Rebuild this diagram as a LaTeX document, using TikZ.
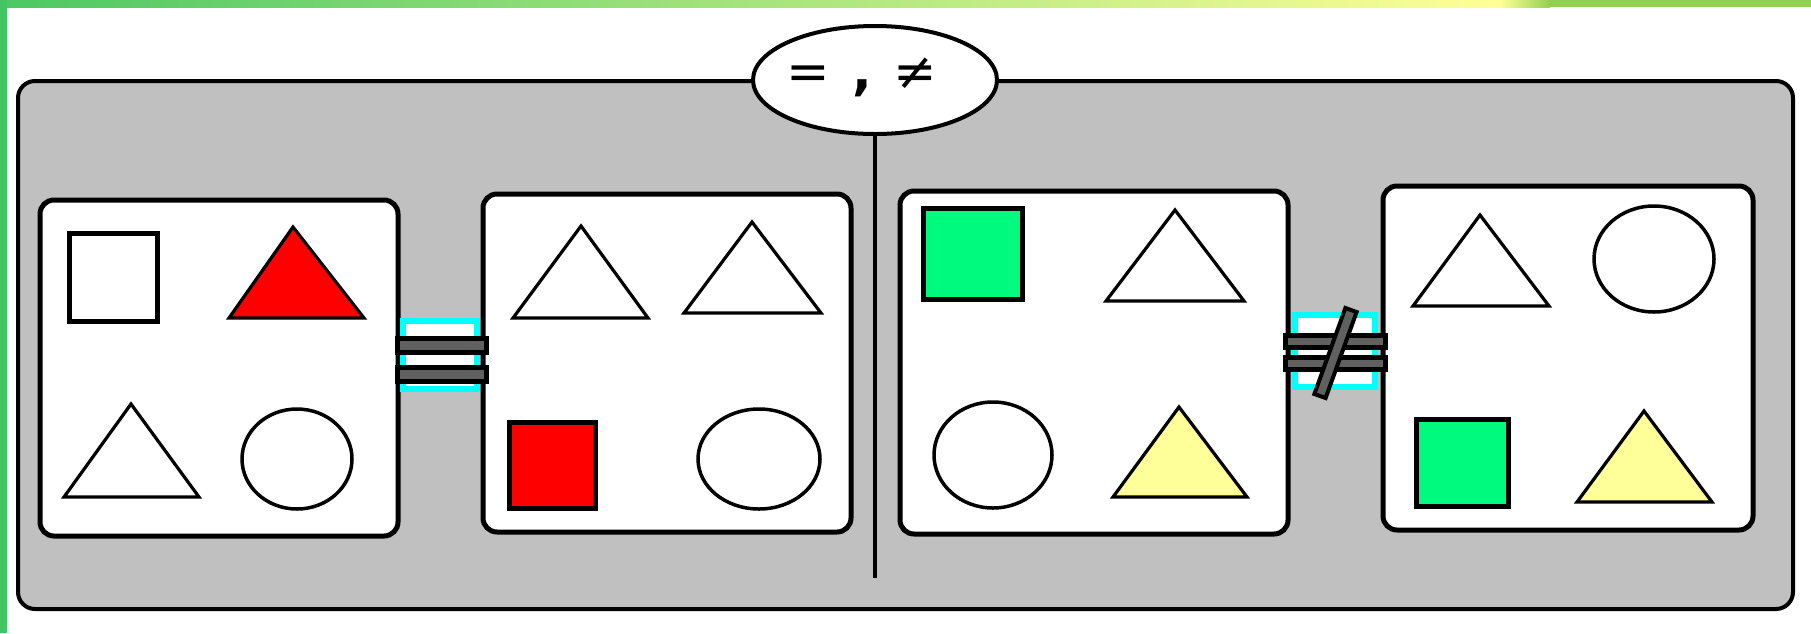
\documentclass[tikz,border=0pt]{standalone}
\usepackage{fontspec}
\newfontfamily\signfont{DejaVu Sans}
\usetikzlibrary{shapes.geometric}
\definecolor{topgreen}{RGB}{76,200,100}
\definecolor{topyellow}{RGB}{255,255,150}
\definecolor{topolive}{RGB}{146,208,80}
\definecolor{leftgreen}{RGB}{68,196,98}
\definecolor{boxgray}{RGB}{192,192,192}
\definecolor{bargray}{RGB}{96,96,96}
\definecolor{shred}{RGB}{255,0,0}
\definecolor{shgreen}{RGB}{0,250,125}
\definecolor{shyellow}{RGB}{255,255,153}
\definecolor{signcyan}{RGB}{0,255,255}
\begin{document}
\begin{tikzpicture}[x=1pt,y=-1pt,
  panel/.style={line width=5, draw=black, fill=white, rounded corners=14},
  sq/.style={line width=5, draw=black},
  tri/.style={line width=3.2, draw=black, line join=miter},
  circ/.style={line width=3.5, draw=black, fill=white},
  frame/.style={line width=6, draw=signcyan, fill=white},
  bar/.style={line width=5, draw=black, fill=bargray},
  lbl/.style={ellipse, draw=black, line width=4, fill=white, minimum width=244, minimum height=108, inner sep=0pt},
  lbltext/.style={inner sep=0pt, anchor=base, font=\signfont\fontsize{52}{56}\selectfont}]
\useasboundingbox (0,0) rectangle (1811,633);
\fill[white] (0,0) rectangle (1811,633);
% top and left decorations
\shade[left color=topgreen, right color=topyellow] (0,0) rectangle (1500,7);
\shade[left color=topyellow, right color=topolive] (1500,0) rectangle (1550,7);
\fill[topolive] (1550,0) rectangle (1811,7);
\fill[leftgreen] (0,0) rectangle (7,633);
% outer box
\draw[line width=4, fill=boxgray, rounded corners=17] (18,81) rectangle (1793,609);
% label ellipse and divider
\node[lbl] (lab) at (875,80) {};
\coordinate (vb) at (875,578);
\draw[line width=4] (lab.south) -- (vb);
\node[lbltext] (labtxt) at (862,89) {=\hspace{22pt}\textbf{,}\hspace{22pt}≠};
% panels
\draw[panel] (40,200) rectangle (398,536);
\draw[panel] (483,194) rectangle (851,532);
\draw[panel] (900,191) rectangle (1288,534);
\draw[panel] (1383,186) rectangle (1753,530);
% panel 1
\draw[sq, fill=white] (69,233) rectangle (157,321);
\draw[tri, fill=shred] (229,318) -- (293,227) -- (364,318) -- cycle;
\draw[tri, fill=white] (64,497) -- (131,404) -- (199,497) -- cycle;
\draw[circ] (297,459) ellipse [x radius=55, y radius=50];
% panel 2
\draw[tri, fill=white] (513,318) -- (581,226) -- (648,318) -- cycle;
\draw[tri, fill=white] (684,313) -- (752,222) -- (821,313) -- cycle;
\draw[sq, fill=shred] (509,422) rectangle (595,508);
\draw[circ] (759,459) ellipse [x radius=61, y radius=50];
% panel 3
\draw[sq, fill=shgreen] (923,208) rectangle (1022,299);
\draw[tri, fill=white] (1106,301) -- (1175,210) -- (1244,301) -- cycle;
\draw[circ] (993,455) ellipse [x radius=59, y radius=53];
\draw[tri, fill=shyellow] (1113,497) -- (1179,407) -- (1247,497) -- cycle;
% panel 4
\draw[tri, fill=white] (1413,306) -- (1480,215) -- (1549,306) -- cycle;
\draw[circ] (1654,259) ellipse [x radius=60, y radius=53];
\draw[sq, fill=shgreen] (1416,419) rectangle (1508,506);
\draw[tri, fill=shyellow] (1577,502) -- (1644,411) -- (1712,502) -- cycle;
% equal sign
\draw[frame] (403,321) rectangle (477,389);
\draw[bar] (397,338.5) rectangle (486,352.5);
\draw[bar] (397,367.5) rectangle (486,381.5);
% not-equal sign
\draw[frame] (1295,315) rectangle (1375,387);
\draw[bar] (1285,335.5) rectangle (1385,347.5);
\draw[bar] (1285,357.5) rectangle (1385,369.5);
\draw[bar, line width=4] (1356.6,312.0) -- (1345.4,308.0) -- (1314.4,394.0) -- (1325.6,398.0) -- cycle;
\end{tikzpicture}
\end{document}
